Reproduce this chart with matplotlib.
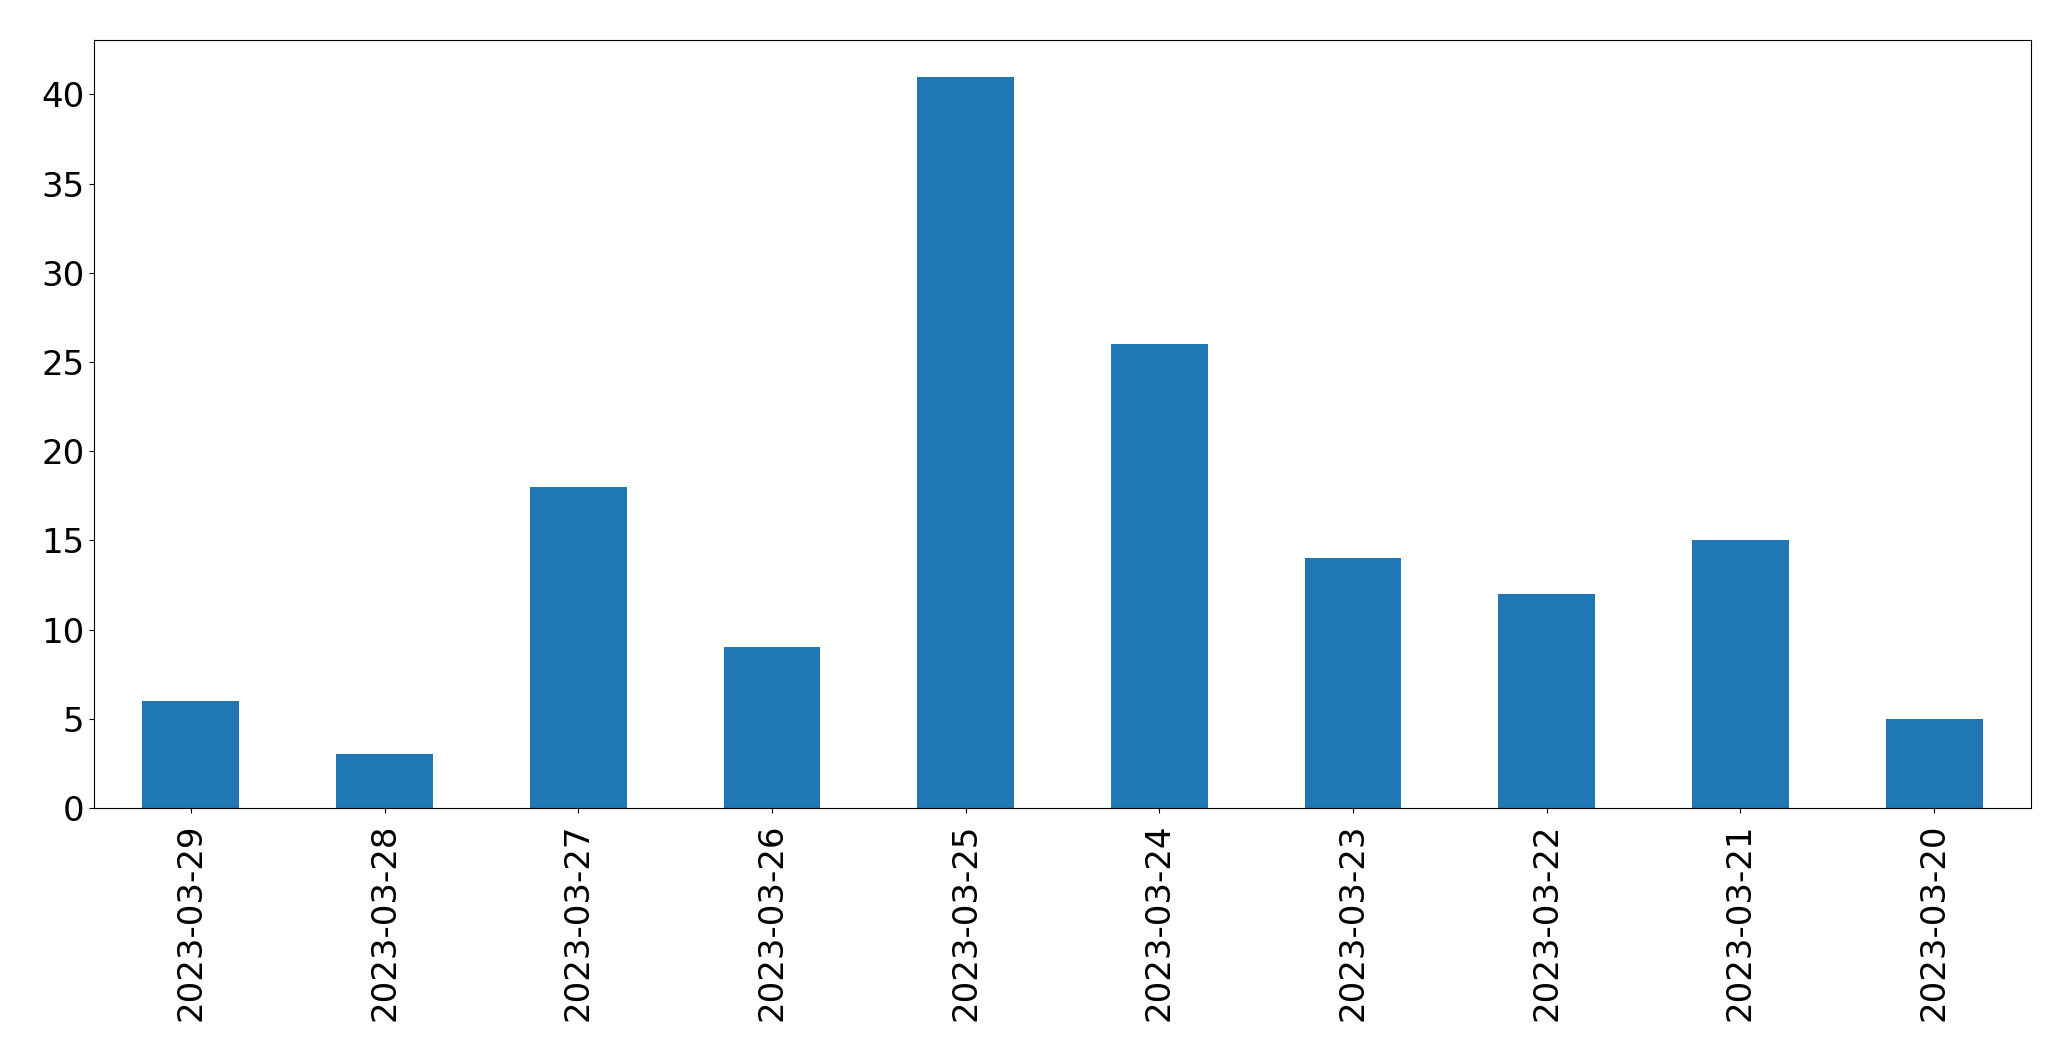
import matplotlib
matplotlib.use("Agg")
import matplotlib.pyplot as plt
import numpy as np

DATES = [
    "2023-03-29", "2023-03-28", "2023-03-27", "2023-03-26", "2023-03-25",
    "2023-03-24", "2023-03-23", "2023-03-22", "2023-03-21", "2023-03-20",
]
COUNTS = [6, 3, 18, 9, 41, 26, 14, 12, 15, 5]

fig = plt.figure(figsize=(20.71, 10.61), dpi=100)
ax = fig.add_axes([94 / 2071, 1 - 808 / 1061, (2031 - 94) / 2071, (808 - 40) / 1061])

x = np.arange(len(DATES))
ax.bar(x, COUNTS, width=0.5, color="#1f77b4")
ax.set_xlim(-0.5, len(DATES) - 0.5)
ax.set_ylim(0, max(COUNTS) * 1.05)
ax.set_xticks(x)
ax.set_xticklabels(DATES, rotation=90)
ax.tick_params(axis="both", labelsize=24.5)
ax.tick_params(axis="x", pad=7.5)

fig.savefig("out.png", dpi=100)
